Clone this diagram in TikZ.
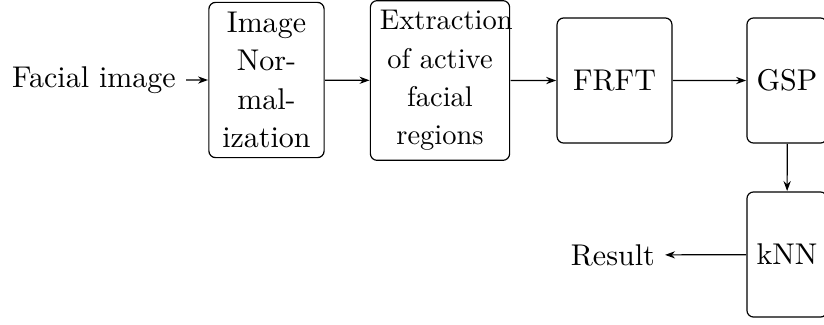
\documentclass[tikz,border=0pt]{standalone}
\usetikzlibrary{arrows.meta}
\tikzset{
  block/.style={draw, rounded corners=3.33pt, semithick, align=center, inner sep=3.2pt},
  plaintext/.style={inner sep=3.2pt},
  flow/.style={-{Stealth[length=5pt,width=3.6pt]}, semithick}
}
\begin{document}
\begin{tikzpicture}[x=0.3333pt, y=-0.3333pt, scale=1.5, transform shape,
                    font=\fontsize{10pt}{12.8pt}\selectfont]
  % page frame; the right-hand column is cut by it
  \clip (0,0) rectangle (824,324);

  % processing stages
  \node[block, text width=32pt] (norm) at (266.5,80) {Image\\Nor-\\mal-\\ization};
  \node[block, text width=40pt, font=\fontsize{9.5pt}{12.8pt}\selectfont] (extr) at (440,80.5)
    {Extraction\\of active\\facial\\regions};
  \node[block, minimum width=38.3pt, minimum height=41.7pt] (frft) at (614.5,80.5) {FRFT};
  \node[block, minimum width=26.7pt, minimum height=41.7pt] (gsp) at (787,80.5) {GSP};
  \node[block, minimum width=26.7pt, minimum height=41.7pt] (knn) at (787,254.5) {kNN};

  % input and output
  \node[plaintext, anchor=east] (input) at (186,80) {Facial image};
  \node[plaintext, anchor=east] (result) at (665,255) {Result};

  % data flow
  \draw[flow] (input) -- (norm);
  \draw[flow] (norm) -- (extr);
  \draw[flow] (extr) -- (frft);
  \draw[flow] (frft) -- (gsp);
  \draw[flow] (gsp) -- (knn);
  \draw[flow] (knn) -- (result);
\end{tikzpicture}
\end{document}
